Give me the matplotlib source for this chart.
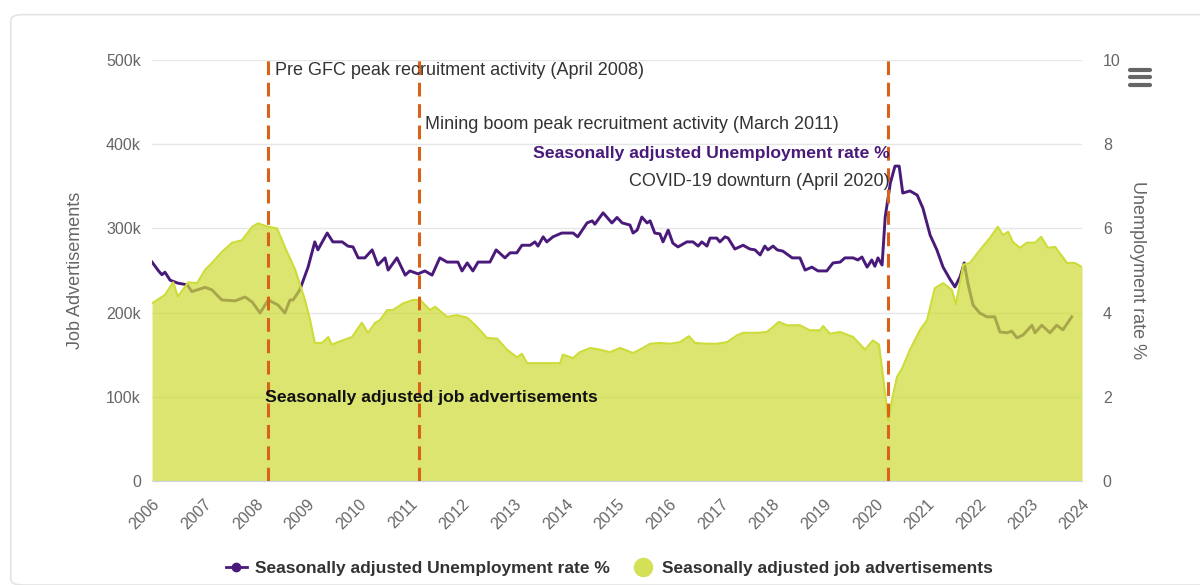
import matplotlib.pyplot as plt
from matplotlib.lines import Line2D
from matplotlib.patches import FancyBboxPatch

plt.rcParams['font.family'] = ['Liberation Sans', 'DejaVu Sans']

# --- Datos ---
# Anuncios de empleo desestacionalizados (miles), fecha en años decimales
ads_fecha = [2006.00, 2006.25, 2006.41, 2006.50, 2006.70, 2006.87, 2007.03, 2007.16, 2007.35, 2007.55,
             2007.74, 2007.94, 2008.05, 2008.25, 2008.42, 2008.57, 2008.77, 2008.96, 2009.06, 2009.15,
             2009.29, 2009.41, 2009.48, 2009.60, 2009.87, 2010.06, 2010.18, 2010.32, 2010.41, 2010.55,
             2010.66, 2010.86, 2011.05, 2011.19, 2011.38, 2011.48, 2011.71, 2011.90, 2012.10, 2012.29,
             2012.48, 2012.68, 2012.87, 2013.06, 2013.16, 2013.26, 2013.51, 2013.70, 2013.90, 2013.95,
             2014.15, 2014.28, 2014.48, 2014.67, 2014.86, 2015.06, 2015.31, 2015.50, 2015.64, 2015.83,
             2016.03, 2016.22, 2016.39, 2016.51, 2016.74, 2016.93, 2017.13, 2017.32, 2017.44, 2017.71,
             2017.90, 2018.02, 2018.13, 2018.29, 2018.54, 2018.73, 2018.93, 2018.99, 2019.12, 2019.32,
             2019.57, 2019.80, 2019.95, 2020.07, 2020.15, 2020.25, 2020.32, 2020.42, 2020.52, 2020.67,
             2020.86, 2021.00, 2021.15, 2021.31, 2021.48, 2021.56, 2021.70, 2021.83, 2022.02, 2022.22,
             2022.37, 2022.47, 2022.57, 2022.66, 2022.80, 2022.93, 2023.09, 2023.21, 2023.34, 2023.48,
             2023.71, 2023.86, 2024.00]
ads_miles = [211, 221, 236, 219, 236, 235, 251, 259, 272, 283,
             286, 302, 306, 302, 300, 278, 251, 215, 191, 164,
             164, 171, 162, 165, 171, 188, 176, 188, 191, 203,
             203, 211, 215, 215, 203, 207, 195, 197, 194, 183,
             170, 169, 156, 147, 151, 140, 140, 140, 140, 150,
             146, 153, 158, 156, 153, 158, 152, 158, 163, 164,
             163, 165, 172, 164, 163, 163, 165, 173, 176, 176,
             177, 183, 189, 185, 185, 179, 179, 184, 175, 177,
             171, 156, 167, 162, 124, 72, 96, 124, 134, 156,
             179, 191, 229, 235, 227, 210, 257, 259, 274, 289,
             302, 292, 296, 284, 277, 283, 283, 290, 277, 278,
             259, 259, 254]

# Tasa de desempleo desestacionalizada (%)
paro_fecha = [2006.00, 2006.12, 2006.19, 2006.25, 2006.35, 2006.50, 2006.68, 2006.77, 2007.03, 2007.16,
              2007.35, 2007.61, 2007.80, 2007.94, 2008.09, 2008.25, 2008.44, 2008.57, 2008.67, 2008.73,
              2008.86, 2009.02, 2009.15, 2009.21, 2009.39, 2009.50, 2009.68, 2009.79, 2009.89, 2009.99,
              2010.12, 2010.26, 2010.37, 2010.51, 2010.57, 2010.74, 2010.90, 2010.99, 2011.15, 2011.28,
              2011.42, 2011.57, 2011.71, 2011.92, 2012.00, 2012.10, 2012.21, 2012.31, 2012.54, 2012.66,
              2012.83, 2012.93, 2013.06, 2013.16, 2013.32, 2013.41, 2013.47, 2013.57, 2013.64, 2013.76,
              2013.93, 2014.15, 2014.24, 2014.42, 2014.52, 2014.57, 2014.73, 2014.90, 2015.00, 2015.10,
              2015.25, 2015.31, 2015.39, 2015.48, 2015.58, 2015.64, 2015.73, 2015.83, 2015.89, 2015.99,
              2016.08, 2016.18, 2016.35, 2016.47, 2016.57, 2016.64, 2016.74, 2016.80, 2016.93, 2016.99,
              2017.09, 2017.15, 2017.28, 2017.44, 2017.57, 2017.67, 2017.77, 2017.86, 2017.92, 2018.02,
              2018.10, 2018.21, 2018.39, 2018.54, 2018.64, 2018.77, 2018.89, 2019.06, 2019.18, 2019.32,
              2019.41, 2019.57, 2019.66, 2019.74, 2019.84, 2019.93, 2019.99, 2020.05, 2020.13, 2020.19,
              2020.29, 2020.38, 2020.46, 2020.53, 2020.67, 2020.81, 2020.92, 2021.06, 2021.19, 2021.31,
              2021.44, 2021.54, 2021.64, 2021.72, 2021.79, 2021.89, 2022.02, 2022.16, 2022.31, 2022.41,
              2022.55, 2022.64, 2022.74, 2022.86, 2023.03, 2023.09, 2023.22, 2023.38, 2023.51, 2023.63,
              2023.80]
paro_tasa = [5.20, 5.00, 4.90, 4.96, 4.77, 4.70, 4.66, 4.50, 4.60, 4.54,
             4.30, 4.28, 4.37, 4.25, 3.99, 4.30, 4.18, 3.99, 4.30, 4.30,
             4.54, 5.08, 5.68, 5.49, 5.89, 5.68, 5.68, 5.58, 5.56, 5.30,
             5.30, 5.49, 5.13, 5.30, 5.01, 5.30, 4.89, 4.99, 4.92, 4.99,
             4.89, 5.30, 5.20, 5.20, 4.99, 5.18, 4.99, 5.20, 5.20, 5.49,
             5.30, 5.42, 5.42, 5.60, 5.60, 5.68, 5.58, 5.80, 5.68, 5.80,
             5.89, 5.89, 5.80, 6.13, 6.18, 6.10, 6.37, 6.13, 6.26, 6.13,
             6.08, 5.89, 5.96, 6.27, 6.13, 6.18, 5.89, 5.87, 5.68, 5.96,
             5.65, 5.56, 5.68, 5.68, 5.58, 5.68, 5.58, 5.77, 5.77, 5.68,
             5.80, 5.77, 5.51, 5.60, 5.51, 5.49, 5.37, 5.58, 5.49, 5.58,
             5.49, 5.46, 5.30, 5.30, 5.01, 5.08, 4.99, 4.99, 5.18, 5.20,
             5.30, 5.30, 5.25, 5.32, 5.08, 5.25, 5.10, 5.30, 5.13, 6.27,
             7.08, 7.48, 7.48, 6.84, 6.89, 6.79, 6.48, 5.84, 5.49, 5.08,
             4.80, 4.61, 4.85, 5.18, 4.70, 4.18, 3.99, 3.90, 3.90, 3.54,
             3.52, 3.56, 3.40, 3.47, 3.70, 3.52, 3.70, 3.52, 3.70, 3.59,
             3.90]

anios = list(range(2006, 2025))

# Eventos marcados (fecha, texto)
eventos_fecha = [2008.25, 2011.17, 2020.25]
eventos_texto = ["Pre GFC peak recruitment activity (April 2008)",
                 "Mining boom peak recruitment activity (March 2011)",
                 "COVID-19 downturn (April 2020)"]

COLOR_LINEA = "#4a1a7a"
COLOR_AREA = "#cddc39"
COLOR_EVENTO = "#d9621a"
GRIS = "#666666"

fig = plt.figure(figsize=(12, 5.85), dpi=100)

# marco de la tarjeta
fig.patches.append(FancyBboxPatch((0.009, 0.0), 1.2, 0.975, boxstyle="round,pad=0,rounding_size=0.01",
                                  transform=fig.transFigure, facecolor="white", edgecolor="#e3e3e3",
                                  linewidth=1.2, zorder=-1))

ax2 = fig.add_axes([0.1267, 0.1778, 0.775, 0.7196])
ax1 = ax2.twinx()  # ejes de anuncios encima de la línea
ax2.set_zorder(1)
ax1.set_zorder(2)
ax1.patch.set_visible(False)
ax2.patch.set_visible(False)

# --- Línea de desempleo (eje derecho) ---
ax2.plot(paro_fecha, paro_tasa, color=COLOR_LINEA, linewidth=2.1, zorder=3)
ax2.set_ylim(0, 10)
ax2.set_yticks([0, 2, 4, 6, 8, 10])
ax2.yaxis.tick_right()
ax2.yaxis.set_label_position("right")
ax2.grid(axis="y", color="#e6e6e6", linewidth=1)
ax2.set_axisbelow(True)
ax2.set_ylabel("Unemployment rate %", rotation=270, color=GRIS, fontsize=13, labelpad=18)
ax2.tick_params(axis="y", length=0, labelcolor=GRIS, labelsize=11.5, pad=15)

# --- Área de anuncios (eje izquierdo) ---
ax1.fill_between(ads_fecha, ads_miles, 0, color=COLOR_AREA, alpha=0.72, linewidth=0, zorder=2)
ax1.plot(ads_fecha, ads_miles, color=COLOR_AREA, linewidth=1.5, zorder=2)
ax1.set_ylim(0, 500)
ax1.set_yticks([0, 100, 200, 300, 400, 500])
ax1.set_yticklabels(["0", "100k", "200k", "300k", "400k", "500k"])
ax1.yaxis.tick_left()
ax1.yaxis.set_label_position("left")
ax1.set_ylabel("Job Advertisements", color=GRIS, fontsize=13, labelpad=16)
ax1.tick_params(axis="y", length=0, labelcolor=GRIS, labelsize=11.5, pad=8)

for ax in (ax1, ax2):
    ax.set_xlim(2006, 2024)
    for s in ax.spines.values():
        s.set_visible(False)
ax1.spines["bottom"].set_visible(True)
ax1.spines["bottom"].set_color("#ccd6eb")

ax2.set_xticks(anios)
ax2.set_xticklabels([str(a) for a in anios], rotation=45, ha="right", rotation_mode="anchor")
ax2.tick_params(axis="x", length=0, labelcolor=GRIS, labelsize=11.5, pad=11)
ax1.tick_params(axis="x", length=0, labelbottom=False)

# --- Líneas de eventos ---
for f in eventos_fecha:
    ax1.axvline(f, color=COLOR_EVENTO, linestyle=(0, (4.5, 2.5)), linewidth=2.2, zorder=4)

ax1.text(2008.38, 488, eventos_texto[0], fontsize=13, color="#333333", va="center", ha="left", zorder=5)
ax1.text(2011.28, 423, eventos_texto[1], fontsize=13, color="#333333", va="center", ha="left", zorder=5)
ax1.text(2020.27, 356, eventos_texto[2], fontsize=13, color="#333333", va="center", ha="right", zorder=5)

# etiquetas de serie
ax1.text(2020.27, 389.5, "Seasonally adjusted Unemployment rate %", fontsize=12.6, fontweight="bold",
         color=COLOR_LINEA, va="center", ha="right", zorder=5)
ax1.text(2008.19, 98.6, "Seasonally adjusted job advertisements", fontsize=12.6, fontweight="bold",
         color="#111111", va="center", ha="left", zorder=5)

# --- Leyenda ---
handles = [Line2D([], [], color=COLOR_LINEA, linewidth=2, marker="o", markersize=6),
           Line2D([], [], color="#d4e157", linestyle="none", marker="o", markersize=13)]
fig.legend(handles, ["Seasonally adjusted Unemployment rate %", "Seasonally adjusted job advertisements"],
           loc="center", bbox_to_anchor=(0.508, 0.028), ncol=2, frameon=False,
           prop={"weight": "bold", "size": 12.5}, labelcolor="#333333", handlelength=1.2,
           handletextpad=0.5, columnspacing=1.3)

# icono de menú
for yy in (0.881, 0.868, 0.855):
    fig.add_artist(Line2D([0.942, 0.958], [yy, yy], transform=fig.transFigure, color=GRIS,
                          linewidth=3, solid_capstyle="round"))

fig.savefig("out.png", dpi=100)
